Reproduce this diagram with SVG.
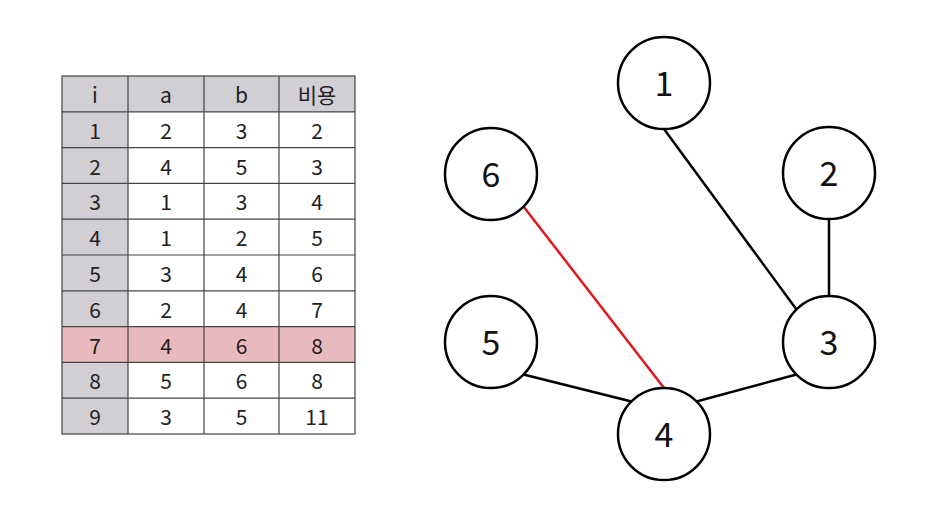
<svg xmlns="http://www.w3.org/2000/svg" width="936" height="511" viewBox="0 0 936 511">
<style>
.t{font-family:"Noto Sans CJK KR","Noto Sans",sans-serif;font-size:21px;fill:#222;text-anchor:middle;dominant-baseline:central}
.n circle{fill:#fff;stroke:#000;stroke-width:2.5}
.n text{font-family:"Noto Sans CJK KR","Noto Sans",sans-serif;font-size:34px;fill:#111;text-anchor:middle;dominant-baseline:central}
.e{stroke:#000;stroke-width:2.5;fill:none}
.r{stroke:#e0191f;stroke-width:2.5;fill:none}
.g{stroke:#444;stroke-width:1.2;fill:none}
</style>
<rect width="936" height="511" fill="#fff"/>
<g id="table">
<rect x="62" y="76" width="293" height="35.8" fill="#d1cfd3"/>
<rect x="62" y="76" width="66" height="358" fill="#d1cfd3"/>
<rect x="62" y="326.6" width="293" height="35.8" fill="#e8b9bd"/>
<g class="g">
<rect x="62" y="76" width="293" height="358"/>
<line x1="128" y1="76" x2="128" y2="434"/>
<line x1="204" y1="76" x2="204" y2="434"/>
<line x1="279" y1="76" x2="279" y2="434"/>
<line x1="62" y1="111.8" x2="355" y2="111.8"/>
<line x1="62" y1="147.6" x2="355" y2="147.6"/>
<line x1="62" y1="183.4" x2="355" y2="183.4"/>
<line x1="62" y1="219.2" x2="355" y2="219.2"/>
<line x1="62" y1="255" x2="355" y2="255"/>
<line x1="62" y1="290.8" x2="355" y2="290.8"/>
<line x1="62" y1="326.6" x2="355" y2="326.6"/>
<line x1="62" y1="362.4" x2="355" y2="362.4"/>
<line x1="62" y1="398.2" x2="355" y2="398.2"/>
</g>
<g class="t">
<text x="95" y="93.9">i</text><text x="166" y="93.9">a</text><text x="241.5" y="93.9">b</text><text x="317" y="93.9">비용</text>
<text x="95" y="129.7">1</text><text x="166" y="129.7">2</text><text x="241.5" y="129.7">3</text><text x="317" y="129.7">2</text>
<text x="95" y="165.5">2</text><text x="166" y="165.5">4</text><text x="241.5" y="165.5">5</text><text x="317" y="165.5">3</text>
<text x="95" y="201.3">3</text><text x="166" y="201.3">1</text><text x="241.5" y="201.3">3</text><text x="317" y="201.3">4</text>
<text x="95" y="237.1">4</text><text x="166" y="237.1">1</text><text x="241.5" y="237.1">2</text><text x="317" y="237.1">5</text>
<text x="95" y="272.9">5</text><text x="166" y="272.9">3</text><text x="241.5" y="272.9">4</text><text x="317" y="272.9">6</text>
<text x="95" y="308.7">6</text><text x="166" y="308.7">2</text><text x="241.5" y="308.7">4</text><text x="317" y="308.7">7</text>
<text x="95" y="344.5">7</text><text x="166" y="344.5">4</text><text x="241.5" y="344.5">6</text><text x="317" y="344.5">8</text>
<text x="95" y="380.3">8</text><text x="166" y="380.3">5</text><text x="241.5" y="380.3">6</text><text x="317" y="380.3">8</text>
<text x="95" y="416.1">9</text><text x="166" y="416.1">3</text><text x="241.5" y="416.1">5</text><text x="317" y="416.1">11</text>
</g>
</g>
<g id="edges">
<line class="e" x1="664" y1="129" x2="796.5" y2="309.5"/>
<line class="e" x1="829" y1="219" x2="829" y2="296"/>
<line class="e" x1="523.5" y1="374.5" x2="631.5" y2="401.5"/>
<line class="e" x1="696.5" y1="401.5" x2="796.5" y2="374.5"/>
<line class="r" x1="523.5" y1="206.5" x2="664" y2="388"/>
</g>
<g id="node1" class="n"><circle cx="664" cy="83" r="46"/><text x="664" y="81">1</text></g>
<g id="node2" class="n"><circle cx="829" cy="173" r="46"/><text x="829" y="171">2</text></g>
<g id="node3" class="n"><circle cx="829" cy="342" r="46"/><text x="829" y="340">3</text></g>
<g id="node4" class="n"><circle cx="664" cy="434" r="46"/><text x="664" y="432">4</text></g>
<g id="node5" class="n"><circle cx="491" cy="342" r="46"/><text x="491" y="340">5</text></g>
<g id="node6" class="n"><circle cx="491" cy="174" r="46"/><text x="491" y="172">6</text></g>
</svg>
